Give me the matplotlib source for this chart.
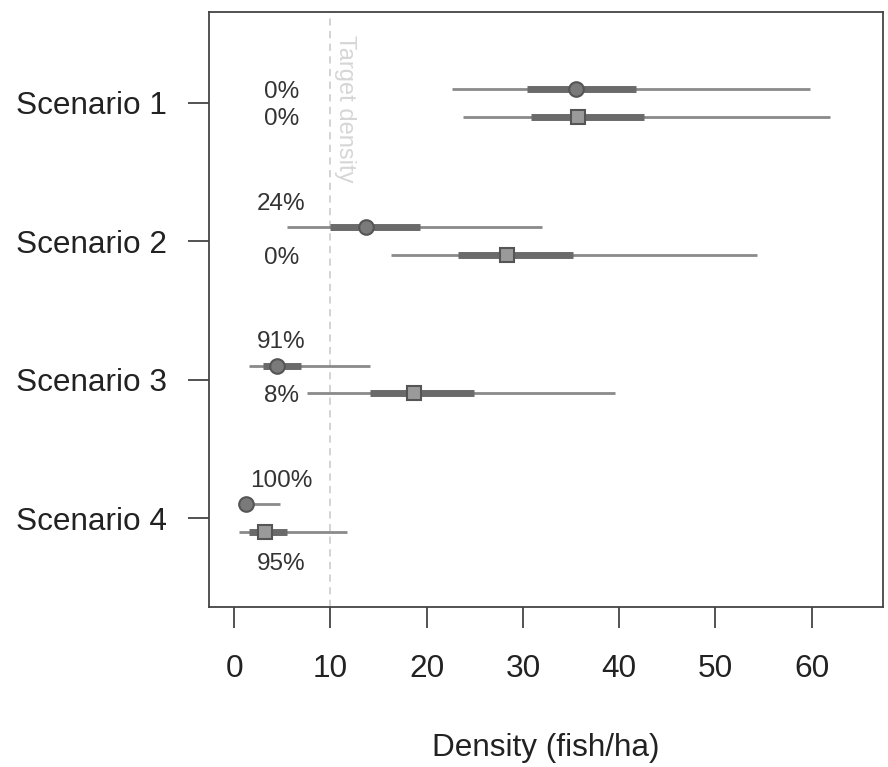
import matplotlib
matplotlib.use("Agg")
import matplotlib.pyplot as plt
import numpy as np

plt.rcParams['font.family'] = ['Liberation Sans', 'DejaVu Sans']

scenarios = ['Scenario 1', 'Scenario 2', 'Scenario 3', 'Scenario 4']

# circle series (upper row of each scenario)
circ_med = [35.5, 13.7, 4.5, 1.2]
circ_lo95 = [22.6, 5.5, 1.5, 0.4]
circ_hi95 = [59.8, 32.0, 14.1, 4.8]
circ_lo50 = [30.4, 10.0, 3.0, 0.8]
circ_hi50 = [41.7, 19.3, 6.9, 2.0]
circ_pct = ['0%', '24%', '91%', '100%']

# square series (lower row of each scenario)
sq_med = [35.7, 28.3, 18.7, 3.2]
sq_lo95 = [23.8, 16.3, 7.6, 0.5]
sq_hi95 = [61.9, 54.3, 39.6, 11.7]
sq_lo50 = [30.8, 23.3, 14.1, 1.5]
sq_hi50 = [42.6, 35.2, 24.9, 5.5]
sq_pct = ['0%', '0%', '8%', '95%']

target = 10

fig = plt.figure(figsize=(8.88, 7.67), dpi=100)
ax = fig.add_axes([0.2354, 0.2086, 0.7590, 0.7758])

ypos = np.arange(1, len(scenarios) + 1)
off = 0.1
thin_c = '#8a8a8a'
thick_c = '#6a6a6a'

ax.axvline(target, color='#d0d0d0', lw=1.3, ls=(0, (4, 3)), zorder=1)
ax.text(target + 1.5, 0.51, 'Target density', rotation=-90, color='#d6d6d6',
        fontsize=17, ha='center', va='top')

for i, y in enumerate(ypos):
    yc = y - off
    ys = y + off
    ax.plot([circ_lo95[i], circ_hi95[i]], [yc, yc], color=thin_c, lw=2, solid_capstyle='butt', zorder=2)
    ax.plot([circ_lo50[i], circ_hi50[i]], [yc, yc], color=thick_c, lw=5, solid_capstyle='butt', zorder=3)
    ax.plot(circ_med[i], yc, 'o', ms=10.5, mfc='#7a7a7a', mec='#555555', mew=1.5, zorder=4)

    ax.plot([sq_lo95[i], sq_hi95[i]], [ys, ys], color=thin_c, lw=2, solid_capstyle='butt', zorder=2)
    ax.plot([sq_lo50[i], sq_hi50[i]], [ys, ys], color=thick_c, lw=5, solid_capstyle='butt', zorder=3)
    ax.plot(sq_med[i], ys, 's', ms=10.5, mfc='#9a9a9a', mec='#555555', mew=1.5, zorder=4)

    # labels go on the row unless the interval reaches into them
    lc = yc - 0.17 if circ_lo95[i] < 7 else yc + 0.02
    ls_ = ys + 0.23 if sq_lo95[i] < 7 else ys + 0.02
    ax.text(4.9, lc, circ_pct[i], fontsize=17.5, color='#333333', ha='center', va='center')
    ax.text(4.9, ls_, sq_pct[i], fontsize=17.5, color='#333333', ha='center', va='center')

ax.set_xlim(-2.6, 67.4)
ax.set_ylim(4.643, 0.343)
ax.set_yticks(ypos)
ax.set_yticklabels(scenarios)
ax.set_xticks(np.arange(0, 61, 10))

for s in ax.spines.values():
    s.set_color('#444444')
    s.set_linewidth(1.3)
ax.tick_params(axis='both', length=15, width=1.3, color='#444444',
               labelsize=22.7, labelcolor='#222222')
ax.tick_params(axis='x', pad=19)
ax.tick_params(axis='y', pad=15)
ax.set_xlabel('Density (fish/ha)', fontsize=22.7, color='#222222', labelpad=35)

fig.savefig('out.png', dpi=100)
